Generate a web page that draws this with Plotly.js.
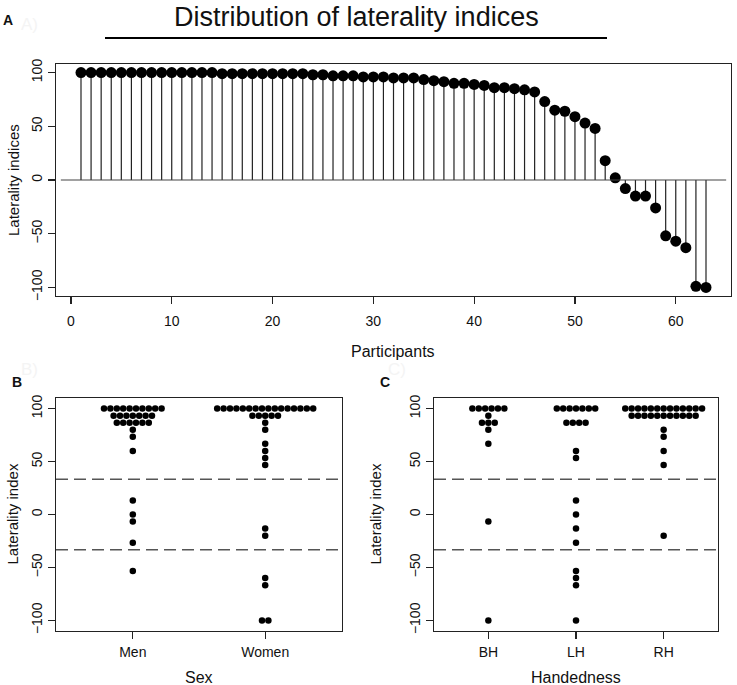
<!DOCTYPE html>
<html><head><meta charset="utf-8">
<script src="https://cdn.plot.ly/plotly-3.0.1.min.js"></script>
<style>html,body{margin:0;padding:0;background:#fff}#chart{width:737px;height:685px}</style>
</head><body><div id="chart"></div>
<script>
// ---------- DATA ----------
const lateralityIndices = [
  100,100,100,100,100,100,100,100,100,100,100,100,100,100,
  99,99,99,99,99,99,99,99,99,
  98,98,97,97,97,96,96,96,95,95,95,
  93.5,92.5,91.5,90,90,89,88,86,86,85,84,82,
  73,65,64,59,53,48,
  18,2,-8,-15,-15,-26,-52,-57,-63,-99,-100
];
const xTicksA = [0,10,20,30,40,50,60];
const yTicks = [-100,-50,0,50,100];

const sexCategories = ['Men','Women'];
const menValues = [100,100,100,100,100,100,100,100,100,100,
  93.3,93.3,93.3,93.3,93.3,93.3,93.3,
  86.7,86.7,86.7,86.7,86.7,86.7,
  80,73.3,60,13.3,0,-6.7,-26.7,-53.3];
const womenValues = [100,100,100,100,100,100,100,100,100,100,100,100,100,100,100,100,
  93.3,93.3,93.3,93.3,93.3,
  86.7,80,66.7,60,53.3,46.7,-13.3,-20,-60,-66.7,-100,-100];

const handCategories = ['BH','LH','RH'];
const bhValues = [100,100,100,100,100,100,93.3,86.7,86.7,86.7,80,66.7,-6.7,-100];
const lhValues = [100,100,100,100,100,100,100,86.7,86.7,86.7,86.7,
  60,53.3,13.3,0,-13.3,-26.7,-53.3,-60,-66.7,-100];
const rhValues = [100,100,100,100,100,100,100,100,100,100,100,100,100,
  93.3,93.3,93.3,93.3,93.3,93.3,93.3,93.3,93.3,93.3,93.3,
  80,73.3,60,46.7,-20];
const thresholds = [33.3,-33.3];

// ---------- LAYOUT HELPERS ----------
const W = 737, H = 685;
const FONT = 'Liberation Sans, Arial, sans-serif';
const boxA = {l:56, r:731, t:64, b:296};
const boxB = {l:56, r:342, t:398, b:631};
const boxC = {l:434, r:718, t:398, b:631};
const rangeXA = [-1.48, 65.48], rangeYA = [-108, 108];
const rangeXB = [0.42, 2.58], rangeXC = [0.38, 3.62], rangeYBC = [-110, 110];
const dotSpacingPx = 6.4;

const domX = b => [b.l/W, b.r/W];
const domY = b => [1 - b.b/H, 1 - b.t/H];

function swarm(values, center, unit){
  const counts = {}; values.forEach(v => counts[v] = (counts[v]||0) + 1);
  const seen = {}; const xs = [];
  values.forEach(v => { const n = counts[v]; const k = seen[v]||0; seen[v] = k+1;
    xs.push(center + (k - (n-1)/2) * unit); });
  return xs;
}
const unitB = dotSpacingPx * (rangeXB[1]-rangeXB[0]) / (boxB.r-boxB.l);
const unitC = dotSpacingPx * (rangeXC[1]-rangeXC[0]) / (boxC.r-boxC.l);

// ---------- TRACES ----------
const participants = lateralityIndices.map((_, i) => i + 1);
const stemX = [], stemY = [];
participants.forEach((p, i) => { stemX.push(p, p, null); stemY.push(0, lateralityIndices[i], null); });

const traces = [
  {x: stemX, y: stemY, mode:'lines', line:{color:'#222', width:1.2}, xaxis:'x', yaxis:'y', hoverinfo:'skip'},
  {x: participants, y: lateralityIndices, mode:'markers', marker:{color:'#000', size:11}, xaxis:'x', yaxis:'y'},
];
[menValues, womenValues].forEach((vals, gi) => {
  traces.push({x: swarm(vals, gi+1, unitB), y: vals, mode:'markers', marker:{color:'#000', size:6.5}, xaxis:'x2', yaxis:'y2'});
});
[bhValues, lhValues, rhValues].forEach((vals, gi) => {
  traces.push({x: swarm(vals, gi+1, unitC), y: vals, mode:'markers', marker:{color:'#000', size:6.5}, xaxis:'x3', yaxis:'y3'});
});

const axisBase = {showline:true, mirror:true, linecolor:'#222', linewidth:1.2, ticks:'outside', ticklen:7,
  tickcolor:'#222', tickwidth:1.2, showgrid:false, zeroline:false, fixedrange:true,
  tickfont:{family:FONT, size:14, color:'#111'}};

const shapes = [
  {type:'line', xref:'x', yref:'y', x0:-1, x1:65, y0:0, y1:0, line:{color:'#444', width:1.2}},
  {type:'line', xref:'paper', yref:'paper', x0:105/W, x1:607/W, y0:1-38/H, y1:1-38/H, line:{color:'#000', width:2}},
];
thresholds.forEach(t => {
  shapes.push({type:'line', xref:'x2', yref:'y2', x0:rangeXB[0], x1:rangeXB[1], y0:t, y1:t, line:{color:'#555', width:1.3, dash:'12px,6px'}});
  shapes.push({type:'line', xref:'x3', yref:'y3', x0:rangeXC[0], x1:rangeXC[1], y0:t, y1:t, line:{color:'#555', width:1.3, dash:'12px,6px'}});
});

function ann(text, xpx, ypx, size, opts){
  return Object.assign({text, xref:'paper', yref:'paper', x:xpx/W, y:1-ypx/H, xanchor:'center', yanchor:'middle',
    showarrow:false, font:{family:FONT, size, color:'#111'}}, opts||{});
}
const faint = {family:FONT, size:17, color:'#f4f4f4'};
const annotations = [
  ann('Distribution of laterality indices', 356, 17, 27),
  ann('<b>A</b>', 8, 20, 14),
  ann('A)', 29, 25, 17, {font:faint}),
  ann('<b>B</b>', 17, 382, 14),
  ann('B)', 29, 369, 17, {font:faint}),
  ann('<b>C</b>', 385, 382, 14),
  ann('C)', 397, 369, 17, {font:faint}),
  ann('Laterality indices', 13, (boxA.t+boxA.b)/2, 15, {textangle:-90}),
  ann('Participants', (boxA.l+boxA.r)/2, 351, 16),
  ann('Laterality index', 12, (boxB.t+boxB.b)/2, 15, {textangle:-90}),
  ann('Sex', (boxB.l+boxB.r)/2, 677, 16),
  ann('Laterality index', 375, (boxC.t+boxC.b)/2, 15, {textangle:-90}),
  ann('Handedness', (boxC.l+boxC.r)/2, 677, 16),
];

const layout = {
  width:W, height:H, margin:{l:0,r:0,t:0,b:0}, paper_bgcolor:'#fff', plot_bgcolor:'#fff', showlegend:false,
  xaxis: Object.assign({}, axisBase, {domain:domX(boxA), range:rangeXA, tickvals:xTicksA, anchor:'y', ticklabelstandoff:5}),
  yaxis: Object.assign({}, axisBase, {domain:domY(boxA), range:rangeYA, tickvals:yTicks, tickangle:-90, anchor:'x'}),
  xaxis2: Object.assign({}, axisBase, {domain:domX(boxB), range:rangeXB, tickvals:[1,2], ticktext:sexCategories, anchor:'y2', ticklabelstandoff:1}),
  yaxis2: Object.assign({}, axisBase, {domain:domY(boxB), range:rangeYBC, tickvals:yTicks, tickangle:-90, anchor:'x2'}),
  xaxis3: Object.assign({}, axisBase, {domain:domX(boxC), range:rangeXC, tickvals:[1,2,3], ticktext:handCategories, anchor:'y3', ticklabelstandoff:1}),
  yaxis3: Object.assign({}, axisBase, {domain:domY(boxC), range:rangeYBC, tickvals:yTicks, tickangle:-90, anchor:'x3'}),
  shapes, annotations
};
Plotly.newPlot('chart', traces, layout, {staticPlot:true, displayModeBar:false});
</script></body></html>
